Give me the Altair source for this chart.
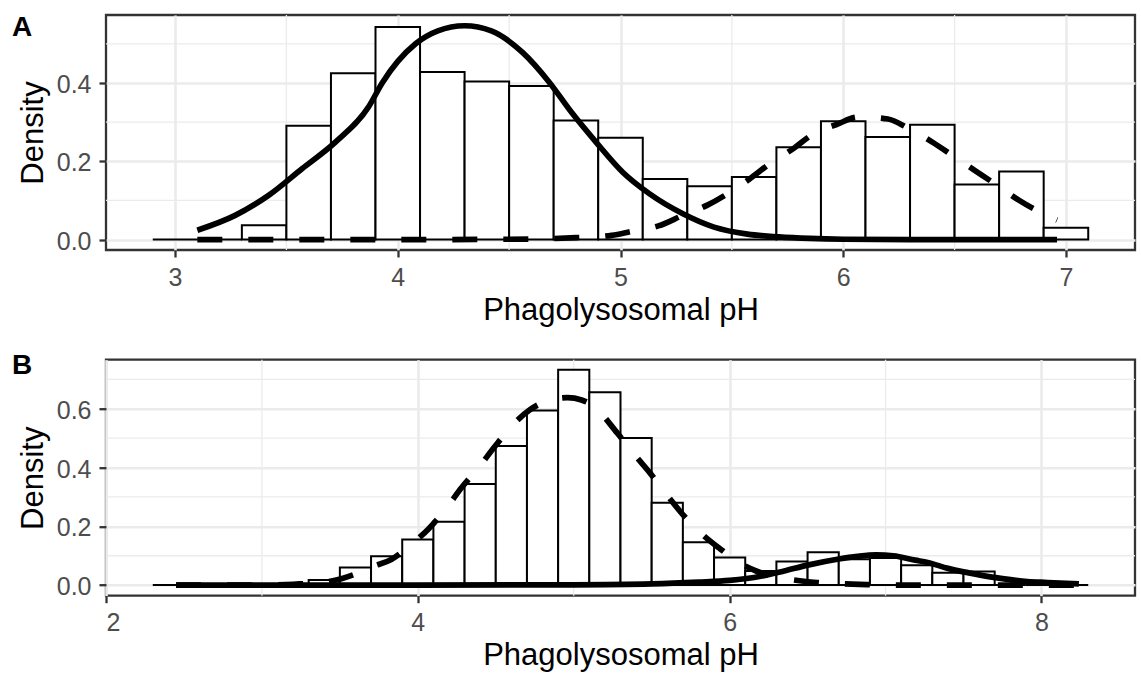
import altair as alt
import pandas as pd

# ---------------- Panel A data ----------------
a_bin_lo = [2.9, 3.1, 3.3, 3.5, 3.7, 3.9, 4.1, 4.3, 4.5, 4.7, 4.9,
            5.1, 5.3, 5.5, 5.7, 5.9, 6.1, 6.3, 6.5, 6.7, 6.9]
a_bin_hi = [3.1, 3.3, 3.5, 3.7, 3.9, 4.1, 4.3, 4.5, 4.7, 4.9, 5.1,
            5.3, 5.5, 5.7, 5.9, 6.1, 6.3, 6.5, 6.7, 6.9, 7.1]
a_density = [0.0, 0.0, 0.037, 0.291, 0.425, 0.543, 0.428, 0.404, 0.392, 0.304, 0.260,
             0.155, 0.136, 0.160, 0.236, 0.302, 0.262, 0.293, 0.141, 0.174, 0.030]

a_solid_x = [3.10, 3.27, 3.42, 3.57, 3.72, 3.87, 3.93, 4.00, 4.08, 4.18, 4.30, 4.42,
             4.56, 4.68, 4.78, 4.89, 5.01, 5.13, 5.28, 5.42, 5.57, 5.71, 5.85, 6.00,
             6.30, 6.96]
a_solid_y = [0.024, 0.062, 0.113, 0.181, 0.249, 0.340, 0.400, 0.455, 0.500, 0.533, 0.546, 0.533,
             0.478, 0.402, 0.325, 0.249, 0.172, 0.117, 0.066, 0.032, 0.014, 0.007, 0.003, 0.001,
             0.0, 0.0]

a_dash_x = [3.10, 4.00, 4.50, 4.80, 4.96, 5.05, 5.17, 5.28, 5.39, 5.48, 5.58, 5.67,
            5.78, 5.86, 5.97, 6.07, 6.20, 6.29, 6.40, 6.49, 6.59, 6.69, 6.79, 6.88, 6.96]
a_dash_y = [0.0, 0.0, 0.001, 0.005, 0.011, 0.021, 0.035, 0.062, 0.088, 0.117, 0.155, 0.194,
            0.234, 0.268, 0.294, 0.313, 0.308, 0.285, 0.249, 0.215, 0.177, 0.139, 0.100, 0.071, 0.050]

# ---------------- Panel B data ----------------
b_bin_lo = [2.3, 2.5, 2.7, 2.9, 3.1, 3.3, 3.5, 3.7, 3.9, 4.1, 4.3, 4.5, 4.7, 4.9, 5.1,
            5.3, 5.5, 5.7, 5.9, 6.1, 6.3, 6.5, 6.7, 6.9, 7.1, 7.3, 7.5, 7.7, 7.9, 8.1]
b_bin_hi = [2.5, 2.7, 2.9, 3.1, 3.3, 3.5, 3.7, 3.9, 4.1, 4.3, 4.5, 4.7, 4.9, 5.1, 5.3,
            5.5, 5.7, 5.9, 6.1, 6.3, 6.5, 6.7, 6.9, 7.1, 7.3, 7.5, 7.7, 7.9, 8.1, 8.3]
b_density = [0.0, 0.0, 0.0, 0.0, 0.003, 0.017, 0.060, 0.098, 0.155, 0.216, 0.344, 0.473, 0.594,
             0.733, 0.656, 0.501, 0.280, 0.146, 0.094, 0.048, 0.080, 0.112, 0.088, 0.092,
             0.068, 0.042, 0.046, 0.0, 0.0, 0.0]

b_solid_x = [2.45, 4.00, 5.00, 5.50, 5.80, 6.00, 6.20, 6.35, 6.50, 6.70, 6.82, 6.94, 7.05,
             7.19, 7.27, 7.40, 7.50, 7.60, 7.75, 7.91, 8.04, 8.24]
b_solid_y = [0.0, 0.0, 0.001, 0.004, 0.010, 0.016, 0.030, 0.048, 0.068, 0.089, 0.098, 0.103,
             0.100, 0.085, 0.077, 0.057, 0.045, 0.035, 0.022, 0.012, 0.009, 0.004]

b_dash_x = [2.45, 3.00, 3.20, 3.40, 3.51, 3.62, 3.72, 3.83, 3.95, 4.07, 4.18, 4.28, 4.39,
            4.49, 4.60, 4.72, 4.85, 4.96, 5.05, 5.12, 5.28, 5.38, 5.49, 5.60, 5.70, 5.82,
            5.94, 6.05, 6.17, 6.30, 6.45, 6.56, 6.70, 6.88, 7.10, 8.24]
b_dash_y = [0.0, 0.0, 0.003, 0.010, 0.022, 0.042, 0.065, 0.087, 0.135, 0.192, 0.260, 0.331,
            0.400, 0.469, 0.540, 0.597, 0.630, 0.638, 0.630, 0.612, 0.517, 0.450, 0.381, 0.305,
            0.240, 0.175, 0.123, 0.080, 0.048, 0.028, 0.015, 0.009, 0.005, 0.002, 0.0, 0.0]

# axis / grid positions
a_x_major = [3, 4, 5, 6, 7]
a_x_minor = [3.5, 4.5, 5.5, 6.5]
a_y_major = [0.0, 0.2, 0.4]
a_y_minor = [0.1, 0.3, 0.5]
b_x_major = [2, 4, 6, 8]
b_x_minor = [3, 5, 7]
b_y_major = [0.0, 0.2, 0.4, 0.6]
b_y_minor = [0.1, 0.3, 0.5, 0.7]

FONT = "Liberation Sans"
W = 1029
GRID = "#EBEBEB"
DARK = "#333333"


def panel(tag, tag_y, lo, hi, dens, sx, sy, dx, dy, xdom, ydom, xmaj, xmin, ymaj, ymin, H):
    xs = alt.Scale(domain=xdom, nice=False, zero=False)
    ys = alt.Scale(domain=ydom, nice=False, zero=False)
    xax = alt.Axis(values=xmaj, format="d", title="Phagolysosomal pH", grid=True,
                   gridColor=GRID, gridWidth=2.6, domain=False, tickColor=DARK,
                   tickSize=7, tickWidth=2.3, labelFontSize=25, labelColor="#4D4D4D",
                   labelPadding=8, labelFont=FONT, titleFont=FONT, titleFontSize=31,
                   titleFontWeight="normal", titleColor="black",
                   titleBaseline="alphabetic", titleY=69)
    yax = alt.Axis(values=ymaj, format=".1f", title="Density", grid=True,
                   gridColor=GRID, gridWidth=2.6, domain=False, tickColor=DARK,
                   tickSize=7, tickWidth=2.3, labelFontSize=25, labelColor="#4D4D4D",
                   labelPadding=8, labelOffset=1.5, labelFont=FONT, titleFont=FONT,
                   titleFontSize=31, titleFontWeight="normal", titleColor="black",
                   titleBaseline="alphabetic", titleX=-64)
    X = lambda f: alt.X(f, type="quantitative", scale=xs, axis=xax)
    Y = lambda f: alt.Y(f, type="quantitative", scale=ys, axis=yax)

    vmin = alt.Chart(pd.DataFrame({"x": xmin})).mark_rule(
        color=GRID, strokeWidth=1.3).encode(x=X("x"), y=alt.value(0), y2=alt.value(H))
    hmin = alt.Chart(pd.DataFrame({"y": ymin})).mark_rule(
        color=GRID, strokeWidth=1.3).encode(y=Y("y"), x=alt.value(0), x2=alt.value(W))
    bars = alt.Chart(pd.DataFrame({"x": lo, "x2": hi, "y": dens})).mark_rect(
        fill="white", stroke="black", strokeWidth=2).encode(
        x=X("x"), x2="x2:Q", y=Y("y"), y2=alt.datum(0))
    solid = alt.Chart(pd.DataFrame({"x": sx, "y": sy})).mark_line(
        color="black", strokeWidth=5.7, interpolate="monotone", strokeCap="butt").encode(
        x=X("x"), y=Y("y"))
    dashed = alt.Chart(pd.DataFrame({"x": dx, "y": dy})).mark_line(
        color="black", strokeWidth=5.7, interpolate="monotone", strokeCap="butt",
        strokeDash=[25, 26]).encode(x=X("x"), y=Y("y"))
    label = alt.Chart(pd.DataFrame({"t": [tag]})).mark_text(
        font=FONT, fontSize=28, fontWeight="bold", align="left", baseline="top",
        color="black").encode(text="t:N", x=alt.value(-94), y=alt.value(tag_y))
    return alt.layer(vmin, hmin, bars, solid, dashed, label).properties(width=W, height=H)


pa = panel("A", -1, a_bin_lo, a_bin_hi, a_density, a_solid_x, a_solid_y, a_dash_x, a_dash_y,
           [2.69, 7.31], [-0.0265, 0.5735], a_x_major, a_x_minor, a_y_major, a_y_minor, 235)
pb = panel("B", -7.6, b_bin_lo, b_bin_hi, b_density, b_solid_x, b_solid_y, b_dash_x, b_dash_y,
           [2.0, 8.6], [-0.036, 0.767], b_x_major, b_x_minor, b_y_major, b_y_minor, 236)

chart = alt.vconcat(pa, pb, spacing=109.7, bounds="flush").configure(
    padding={"left": 10, "top": 12, "right": 4, "bottom": 0},
    font=FONT,
    background="white",
).configure_view(stroke=DARK, strokeWidth=2.3)

chart.save("out.html", embed_options={"renderer": "svg", "actions": False})
